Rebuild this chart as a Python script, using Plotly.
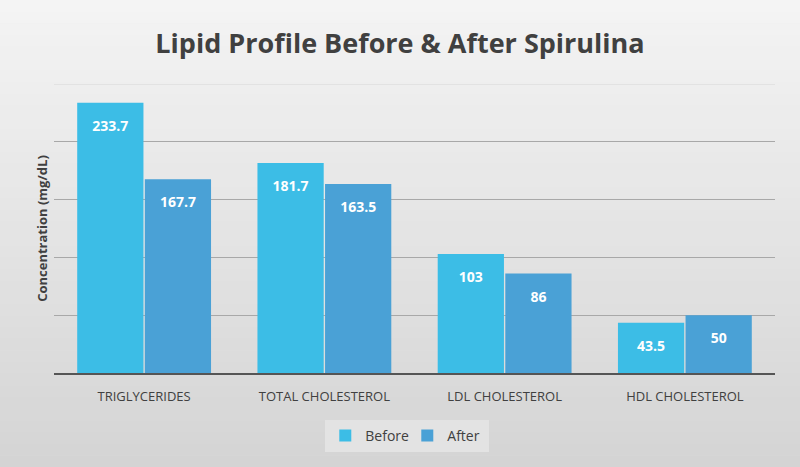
import plotly.graph_objects as go

categories = ["TRIGLYCERIDES", "TOTAL CHOLESTEROL", "LDL CHOLESTEROL", "HDL CHOLESTEROL"]
before = [233.7, 181.7, 103, 43.5]
after = [167.7, 163.5, 86, 50]
before_labels = ["233.7", "181.7", "103", "43.5"]
after_labels = ["167.7", "163.5", "86", "50"]

W, H = 800, 467
M_L, M_R, M_T, M_B = 54, 25, 84, 94
plot_h = H - M_T - M_B
Y_MAX = 250


def lab(t):
    return "<span style='font-size:7px'> </span><br><b>" + t + "</b>"


fig = go.Figure()
fig.add_trace(go.Bar(x=categories, y=before, name="Before", marker_color="#3CBDE6",
                     text=[lab(t) for t in before_labels],
                     textposition="inside", insidetextanchor="end",
                     textfont=dict(color="white", size=14, family="Open Sans"),
                     marker_line_width=0, hoverinfo="skip"))
fig.add_trace(go.Bar(x=categories, y=after, name="After", marker_color="#4AA1D6",
                     text=[lab(t) for t in after_labels],
                     textposition="inside", insidetextanchor="end",
                     textfont=dict(color="white", size=14, family="Open Sans"),
                     marker_line_width=0, hoverinfo="skip"))

# vertical background gradient (light top -> darker bottom)
shapes = []
n = 40
top_c, bot_c = 244, 212
for i in range(n):
    py0 = H * i / n
    py1 = H * (i + 1) / n + 0.5
    c = round(top_c + (bot_c - top_c) * (i + 0.5) / n)
    shapes.append(dict(type="rect", xref="paper", yref="paper",
                       x0=-M_L / (W - M_L - M_R) - 0.01, x1=1 + M_R / (W - M_L - M_R) + 0.01,
                       y0=(H - M_B - py1) / plot_h, y1=(H - M_B - py0) / plot_h,
                       fillcolor=f"rgb({c},{c},{c})", line_width=0, layer="below"))
# faint top gridline
shapes.append(dict(type="line", xref="paper", yref="y", x0=0, x1=1, y0=Y_MAX, y1=Y_MAX,
                   line=dict(color="#DEDEDE", width=1.5), layer="below"))

fig.update_layout(
    width=W, height=H,
    barmode="group", bargap=0.25, bargroupgap=0.02,
    paper_bgcolor="#E5E5E5", plot_bgcolor="rgba(0,0,0,0)",
    margin=dict(l=M_L, r=M_R, t=M_T, b=M_B),
    shapes=shapes,
    title=dict(text="<b>Lipid Profile Before & After Spirulina</b>", x=0.5, xanchor="center",
               y=1 - 44 / H, yanchor="middle",
               font=dict(family="Open Sans", size=27, color="#404040")),
    uniformtext=dict(mode="show", minsize=7),
    legend=dict(orientation="h", x=0.49, xanchor="center", y=(H - M_B - 436) / plot_h,
                yanchor="middle", bgcolor="#E3E3E3",
                font=dict(family="Open Sans", size=14, color="#404040"),
                itemwidth=30, entrywidth=37, entrywidthmode="pixels"),
    font=dict(family="Open Sans", color="#404040"),
    hovermode=False,
)
fig.update_yaxes(range=[0, Y_MAX], dtick=50, showticklabels=False, showgrid=True,
                 gridcolor="#A8A8A8", gridwidth=1, zeroline=False,
                 title=dict(text="<b>Concentration (mg/dL)</b>",
                            font=dict(size=13, color="#404040"), standoff=2))
fig.update_xaxes(showline=True, linecolor="#555555", linewidth=2,
                 tickfont=dict(size=13, color="#404040"), ticks="",
                 ticklabelstandoff=10)

fig.write_html("out.html", config={"displayModeBar": False},
               post_script="document.body.style.margin='0';")
